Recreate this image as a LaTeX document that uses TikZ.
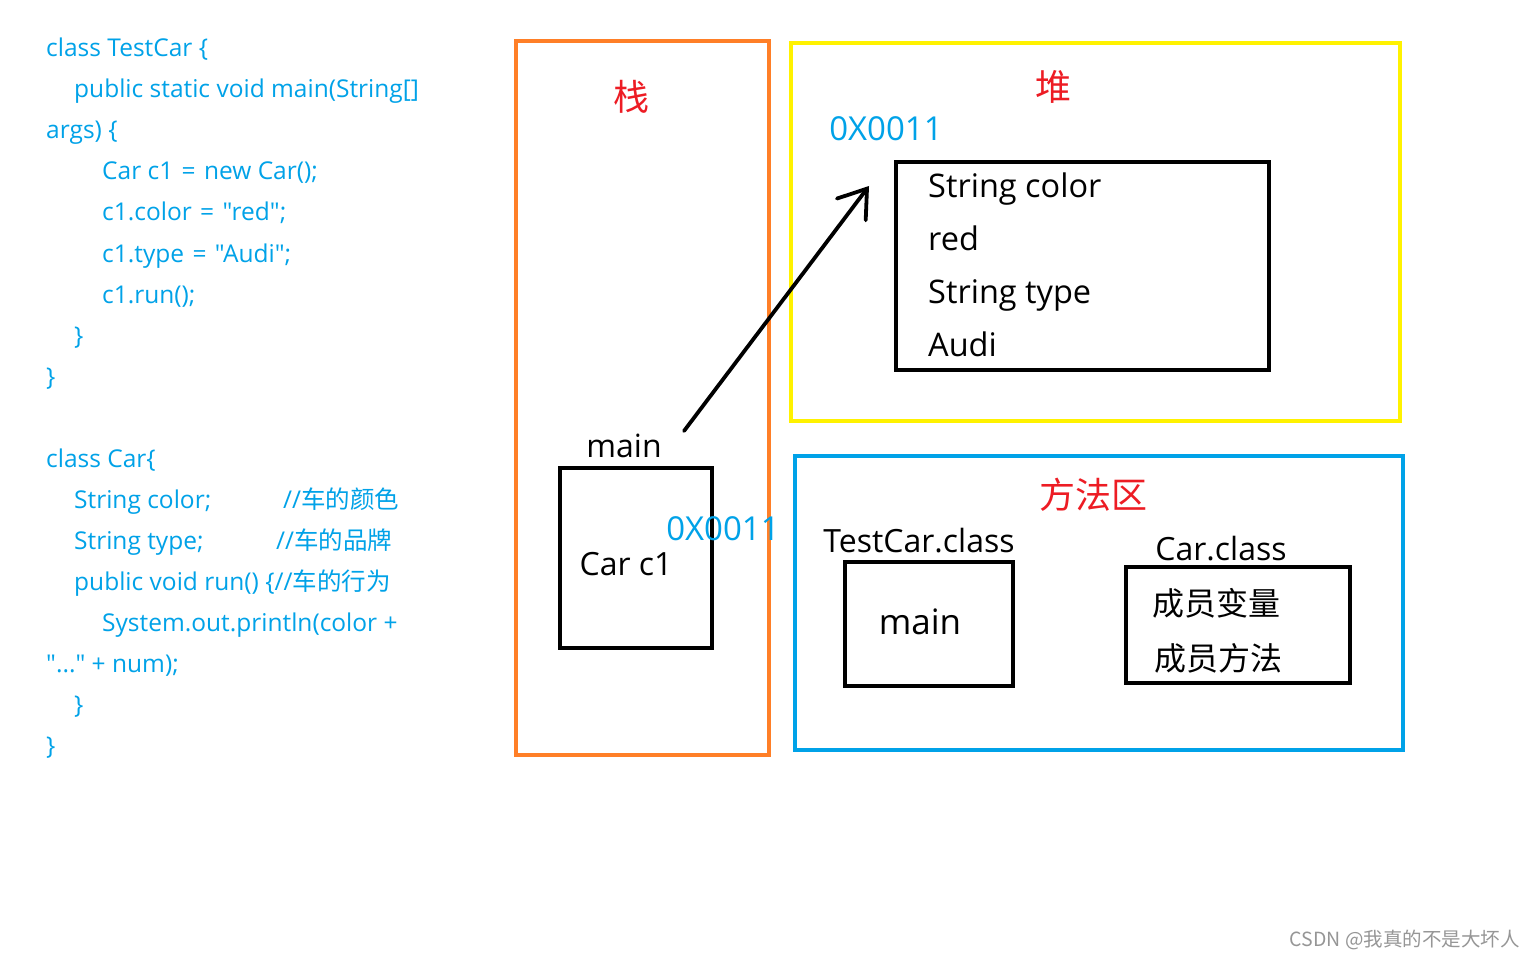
\documentclass[tikz,border=0pt]{standalone}
\usepackage{fontspec}
\setmainfont{Open Sans}
\newfontfamily\codefont{Open Sans}
\newfontfamily\cjk{Noto Sans CJK SC}
\usetikzlibrary{arrows.meta}
\newcommand\dq{\char34\relax}
\newcommand\eqs{\hspace{2pt} = \hspace{2pt}}
\definecolor{codeblue}{RGB}{0,162,232}
\definecolor{stackorange}{RGB}{255,127,39}
\definecolor{heapyellow}{RGB}{255,242,0}
\definecolor{areablue}{RGB}{0,162,232}
\definecolor{titlered}{RGB}{237,28,36}
\definecolor{markgray}{RGB}{150,150,150}
\tikzset{
  codeline/.style={anchor=base west, inner sep=0pt, text=codeblue, font=\codefont\fontsize{24.5}{28}\selectfont},
  region/.style={draw=#1, line width=4.5pt, inner sep=0pt},
  objbox/.style={draw=black, line width=4pt, inner sep=0pt},
  bigtext/.style={anchor=base, inner sep=0pt, font=\fontsize{32}{36}\selectfont},
  bigleft/.style={anchor=base west, inner sep=0pt, font=\fontsize{32.5}{36}\selectfont},
  redtitle/.style={inner sep=0pt, text=titlered, font=\cjk\fontsize{36}{40}\selectfont},
  addr/.style={anchor=base, inner sep=0pt, text=codeblue, font=\fontsize{33}{36}\selectfont},
  cjkleft/.style={anchor=west, inner sep=0pt, font=\cjk\fontsize{32}{36}\selectfont},
  pointer/.style={draw=black, line width=3.8pt, line cap=round, -{Straight Barb[length=26pt, width=36pt, line cap=round]}}
}
\begin{document}
\begin{tikzpicture}[x=1pt,y=-1pt]
\useasboundingbox[fill=white] (0,0) rectangle (1536,960);

% code, first class
\node[codeline] (l1) at (46,57) {class TestCar \{};
\node[codeline] (l2) at (74,98) {public static void main(String[]};
\node[codeline] (l3) at (46,139) {args) \{};
\node[codeline] (l4) at (102,180) {Car c1\eqs new Car();};
\node[codeline] (l5) at (102,221) {c1.color\eqs\dq red\dq;};
\node[codeline] (l6) at (102,262) {c1.type\eqs\dq Audi\dq;};
\node[codeline] (l7) at (102,303) {c1.run();};
\node[codeline] (l8) at (74,344) {\}};
\node[codeline] (l9) at (46,385) {\}};
% code, second class
\node[codeline] (m1) at (46,467) {class Car\{};
\node[codeline] (m2) at (74,508) {String color;};
\node[codeline] (m2c) at (283,508) {//{\cjk 车的颜色}};
\node[codeline] (m3) at (74,549) {String type;};
\node[codeline] (m3c) at (276,549) {//{\cjk 车的品牌}};
\node[codeline] (m4) at (74,590) {public void run() \{//{\cjk 车的行为}};
\node[codeline] (m5) at (102,631) {System.out.println(color +};
\node[codeline] (m6) at (46,672) {\dq...\dq\ + num);};
\node[codeline] (m7) at (74,713) {\}};
\node[codeline] (m8) at (46,754) {\}};

% stack
\node[region=stackorange, minimum width=253pt, minimum height=714pt] (stack) at (642.5,398) {};
\node[redtitle] (stackt) at (631,97) {栈};
\node[bigtext] (mainl) at (624,457) {main};
\node[objbox, minimum width=152pt, minimum height=180pt] (frame) at (636,558) {};
\node[bigtext] (carc1) at (626,575) {Car c1};
\node[addr] (addr1) at (723,540) {0X0011};

% heap
\node[region=heapyellow, minimum width=609pt, minimum height=378pt] (heap) at (1095.5,232) {};
\node[redtitle] (heapt) at (1053,87) {堆};
\node[addr] (addr2) at (886,141) {0X0011};
\node[objbox, minimum width=373pt, minimum height=208pt] (obj) at (1082.5,266) {};
\node[bigleft] (f1) at (928,198) {String color};
\node[bigleft] (f2) at (928,250) {red};
\node[bigleft] (f3) at (928,303) {String type};
\node[bigleft] (f4) at (928,356) {Audi};

% method area
\node[region=areablue, minimum width=608pt, minimum height=294pt] (area) at (1099,603) {};
\node[redtitle] (areat) at (1093,495) {方法区};
\node[bigtext] (tcc) at (919,552) {TestCar.class};
\node[objbox, minimum width=168pt, minimum height=124pt] (tcbox) at (929,624) {};
\node[bigtext, font=\fontsize{35}{38}\selectfont] (mainm) at (920,634) {main};
\node[bigtext] (cc) at (1221,560) {Car.class};
\node[objbox, minimum width=224pt, minimum height=116pt] (ccbox) at (1238,625) {};
\node[cjkleft] (mv) at (1152,603) {成员变量};
\node[cjkleft] (mm) at (1154,658) {成员方法};

% pointer
\coordinate (ps) at (684,431);
\coordinate (pe) at (869,186);
\draw[pointer] (ps) -- (pe);

% watermark
\node[anchor=east, inner sep=0pt, text=markgray, font=\cjk\fontsize{19.5}{22}\selectfont] (wm) at (1520,940) {CSDN @我真的不是大坏人};
\end{tikzpicture}
\end{document}
